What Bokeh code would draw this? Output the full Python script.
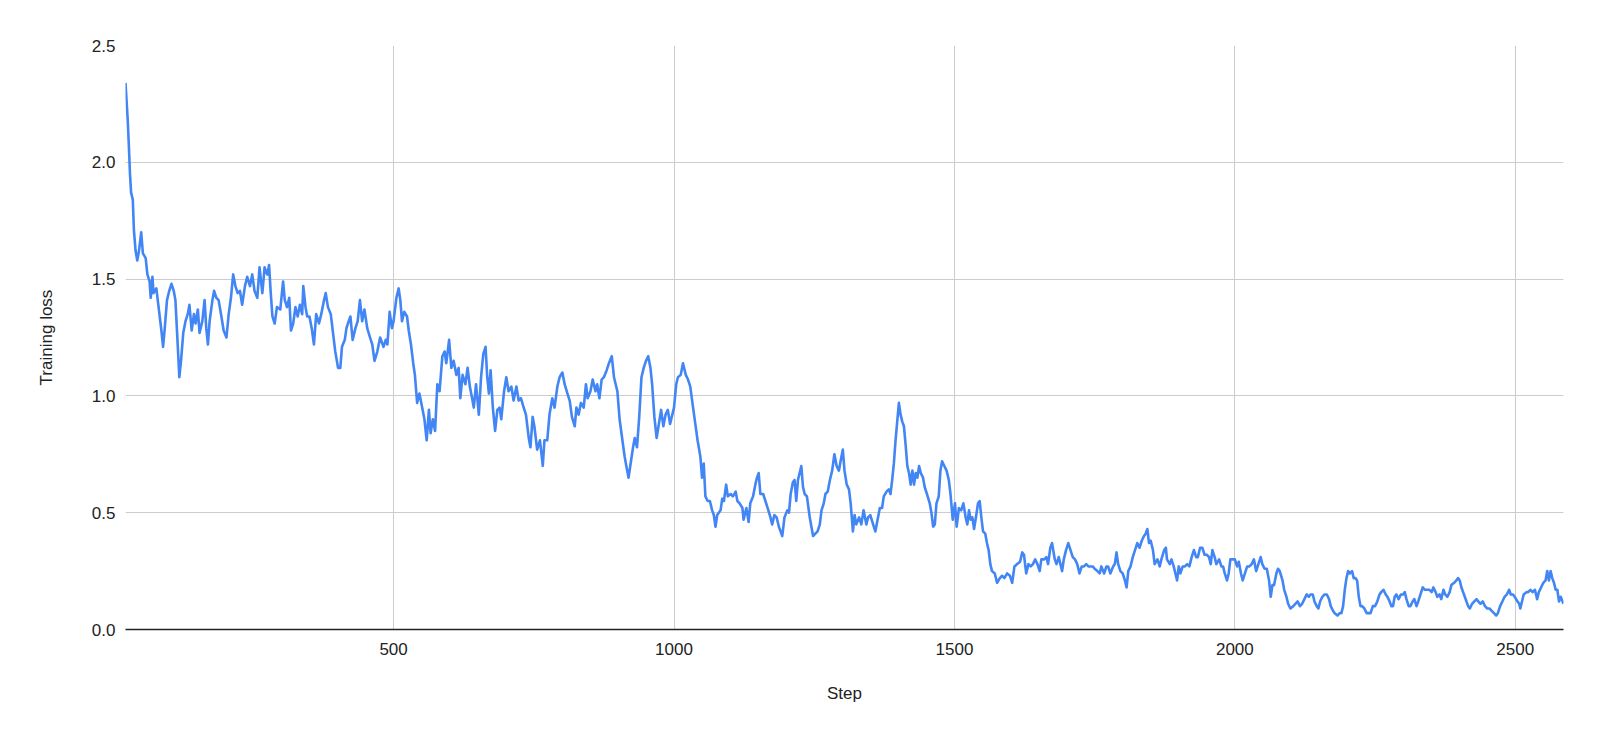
from bokeh.plotting import figure
from bokeh.models import Range1d, FixedTicker, PrintfTickFormatter, ColumnDataSource
from bokeh.embed import file_html
from bokeh.resources import INLINE

# ---- data ----
step = [
    22, 26, 28, 30, 32, 35, 37, 40, 43, 46, 50, 53, 58, 61, 65, 67, 70, 72, 77, 81, 86, 89, 92, 96, 100,
    104, 108, 111, 114, 118, 121, 125, 129, 133, 136, 140, 144, 147, 151, 154, 159, 163, 166, 169, 172,
    177, 180, 184, 188, 193, 197, 202, 206, 210, 214, 218, 222, 226, 230, 235, 239, 244, 248, 252, 257, 261,
    266, 270, 275, 278, 281, 284, 288, 292, 298, 303, 306, 310, 314, 317, 321, 325, 329, 333, 337, 339,
    343, 346, 350, 354, 358, 362, 367, 371, 376, 379, 383, 388, 392, 396, 401, 405, 408, 413, 416, 420,
    423, 427, 432, 436, 440, 444, 448, 453, 458, 462, 466, 471, 476,
    482, 486, 489, 493, 497, 500, 505, 509, 512, 515, 519, 524, 527, 531, 535, 538, 542, 546, 551, 555,
    559, 563, 566, 570, 574, 578, 582, 587, 591, 594, 599, 603, 607, 612, 616, 619, 623, 628, 632, 636,
    640, 643, 647, 652, 656, 660, 664, 667, 670, 673, 677, 681, 685, 689, 692, 697, 701, 705, 710, 714,
    719, 723, 727, 732, 736, 741, 744, 748, 751, 756, 761, 766, 769, 774, 778, 783, 787, 792, 796, 801,
    805, 810, 814, 818, 823, 826, 830, 834, 839, 843, 846, 851, 855, 860, 863, 867, 871, 875, 880, 884,
    889, 893, 899, 903, 908, 912, 915, 919, 922, 927, 930, 934, 938, 942, 946, 950, 954, 958, 961, 965,
    969, 973, 977, 981, 985, 989, 993, 997, 1000, 1004, 1007, 1012, 1016, 1021, 1025, 1029,
    1034, 1038, 1042, 1047, 1050, 1053, 1056, 1060, 1064, 1068, 1071, 1074, 1077, 1083, 1086, 1089, 1093,
    1096, 1101, 1105, 1110, 1113, 1117, 1122, 1124, 1129, 1133, 1136, 1141, 1145, 1148, 1151, 1154, 1159,
    1163, 1167, 1172, 1175, 1179, 1183, 1187, 1190, 1193, 1197, 1202, 1205, 1208, 1212, 1215, 1218, 1221,
    1224, 1227, 1230, 1233, 1237, 1242, 1245, 1248, 1252, 1256, 1260, 1263, 1267, 1270, 1274, 1278, 1282,
    1286, 1290, 1294, 1297, 1301, 1304, 1308, 1312, 1315, 1319, 1322, 1325, 1330, 1334, 1338, 1343, 1346,
    1350, 1355, 1359, 1363, 1367, 1371, 1374, 1379, 1383, 1386, 1389, 1392, 1395, 1398, 1401, 1404, 1407,
    1410, 1413, 1416, 1419, 1422, 1425, 1428, 1431, 1434, 1437, 1440, 1444, 1447, 1451, 1456, 1459, 1462,
    1465, 1468, 1472, 1475, 1478, 1482, 1486, 1490, 1493, 1497, 1501, 1504, 1508, 1512, 1516, 1520, 1523,
    1526, 1529, 1532, 1535, 1539, 1542, 1545, 1548, 1551, 1555, 1558, 1561,
    1564, 1567, 1572, 1576, 1581, 1585, 1589, 1594, 1599, 1603, 1607, 1612, 1617, 1621, 1624, 1628, 1632,
    1636, 1640, 1644, 1648, 1652, 1655, 1660, 1664, 1667, 1671, 1674, 1679, 1682, 1686, 1689, 1692, 1695,
    1699, 1703, 1707, 1711, 1715, 1719, 1723, 1727, 1731, 1735, 1739, 1743, 1747, 1750, 1755, 1759, 1762,
    1767, 1771, 1774, 1778, 1783, 1786, 1789, 1792, 1796, 1800, 1804, 1807, 1810, 1814, 1818, 1822, 1826,
    1830, 1834, 1838, 1841, 1844, 1847, 1850, 1854, 1857, 1862, 1866, 1869, 1874, 1877, 1879, 1884, 1887,
    1891, 1894, 1897, 1900, 1903, 1907, 1911, 1915, 1919, 1923, 1927, 1931, 1934, 1938, 1942, 1946, 1950,
    1954, 1957, 1960, 1964, 1967, 1972, 1976, 1979, 1982, 1986, 1989, 1992, 1997, 2000, 2004, 2007, 2011,
    2014, 2018, 2022, 2026, 2030, 2034, 2038, 2042, 2046, 2049, 2053, 2057, 2061, 2064, 2067, 2070, 2074,
    2077, 2080, 2085, 2088, 2092, 2095,
    2099, 2104, 2108, 2112, 2116, 2120, 2124, 2128, 2132, 2135, 2139, 2142, 2146, 2149, 2152, 2156, 2160,
    2164, 2168, 2171, 2175, 2178, 2183, 2187, 2190, 2193, 2196, 2199, 2202, 2205, 2209, 2212, 2215, 2218,
    2221, 2224, 2227, 2231, 2235, 2239, 2242, 2246, 2250, 2254, 2258, 2261, 2265, 2269, 2272, 2276, 2279,
    2282, 2285, 2288, 2292, 2296, 2300, 2303, 2306, 2310, 2313, 2317, 2320, 2324, 2327, 2331, 2335, 2339,
    2343, 2347, 2351, 2354, 2358, 2361, 2365, 2368, 2372, 2375, 2379, 2383, 2386, 2391, 2395, 2398, 2401,
    2404, 2407, 2410, 2413, 2416, 2419, 2423, 2427, 2431, 2434, 2438, 2442, 2446, 2450, 2454, 2458, 2462,
    2466, 2469, 2473, 2477, 2481, 2485, 2489, 2492, 2496, 2499, 2504, 2507, 2509, 2512, 2515, 2520, 2523,
    2527, 2531, 2535, 2539, 2542, 2546, 2550, 2554, 2557, 2560, 2563, 2566, 2569, 2572, 2575, 2578, 2581,
    2586,
]

training_loss = [
    2.34, 2.18, 2.07, 1.95, 1.87, 1.84, 1.71, 1.62, 1.58, 1.62, 1.70, 1.61, 1.59, 1.52, 1.49, 1.42, 1.51,
    1.44, 1.46, 1.38, 1.28, 1.21, 1.29, 1.41, 1.45, 1.48, 1.45, 1.41, 1.27, 1.08, 1.15, 1.27, 1.32, 1.35,
    1.39, 1.28, 1.35, 1.31, 1.37, 1.27, 1.32, 1.41, 1.29, 1.22, 1.32, 1.41, 1.45, 1.42, 1.41, 1.34, 1.28,
    1.25, 1.35, 1.42, 1.52, 1.47, 1.44, 1.45, 1.39, 1.47, 1.51, 1.47, 1.52, 1.45, 1.42, 1.55,
    1.44, 1.55, 1.52, 1.56, 1.44, 1.34, 1.31, 1.38, 1.37, 1.49, 1.41, 1.38, 1.42, 1.28, 1.31, 1.38, 1.34,
    1.39, 1.35, 1.47, 1.38, 1.34, 1.34, 1.29, 1.22, 1.35, 1.31, 1.35, 1.41, 1.44, 1.38, 1.35, 1.27, 1.19,
    1.12, 1.12, 1.21, 1.24, 1.29, 1.32, 1.34, 1.24, 1.29, 1.32, 1.41, 1.32, 1.37, 1.29, 1.25, 1.22, 1.15,
    1.19, 1.25,
    1.21, 1.24, 1.22, 1.36, 1.29, 1.32, 1.42, 1.46, 1.41, 1.32, 1.36, 1.34, 1.28, 1.22, 1.14, 1.09, 0.97,
    1.01, 0.95, 0.90, 0.81, 0.94, 0.84, 0.90, 0.85, 1.05, 1.02, 1.17, 1.19, 1.14, 1.24, 1.12, 1.15, 1.09,
    1.12, 0.99, 1.09, 1.05, 1.12, 1.04, 0.99, 0.95, 1.05, 0.92, 1.08, 1.18, 1.21, 1.08, 1.01, 1.11, 0.95,
    0.85, 0.94, 0.95, 0.90, 1.02, 1.08, 1.02, 1.04, 0.98, 1.04, 0.98, 0.99, 0.95, 0.92, 0.82, 0.78, 0.91,
    0.87, 0.77, 0.81, 0.70, 0.81, 0.81, 0.92, 0.99, 0.95, 1.04, 1.08, 1.10, 1.05, 1.01, 0.98, 0.91, 0.87,
    0.95, 0.92, 0.97, 0.95, 1.05, 0.99, 1.02, 1.07, 1.02, 1.05, 0.99, 1.07, 1.08, 1.11, 1.14, 1.17, 1.08,
    1.02, 0.90, 0.81, 0.74, 0.70, 0.65, 0.70, 0.78, 0.82, 0.78, 0.91, 1.08, 1.12, 1.15, 1.17, 1.12, 1.05,
    0.91, 0.82, 0.88, 0.94, 0.87, 0.92, 0.94, 0.88, 0.92, 0.95, 1.05, 1.08, 1.09, 1.14, 1.09, 1.07, 1.04,
    0.95, 0.88, 0.81, 0.74, 0.65, 0.71, 0.57, 0.55, 0.55, 0.51, 0.49, 0.44, 0.49, 0.51, 0.56, 0.55, 0.62,
    0.57, 0.58, 0.57, 0.59, 0.55, 0.54, 0.52, 0.47, 0.52, 0.46, 0.54, 0.57, 0.62, 0.65, 0.67, 0.58, 0.58,
    0.55, 0.52, 0.48, 0.45, 0.49, 0.48, 0.44, 0.42, 0.40, 0.48, 0.51, 0.50, 0.58, 0.63, 0.64, 0.55, 0.64,
    0.67, 0.70, 0.61, 0.58, 0.57, 0.48, 0.44, 0.40, 0.41, 0.42, 0.45, 0.51, 0.54, 0.58, 0.59, 0.64, 0.68,
    0.75, 0.70, 0.68, 0.72, 0.77, 0.68, 0.62, 0.60, 0.54, 0.42, 0.49, 0.45, 0.48, 0.45, 0.51, 0.45, 0.48,
    0.49, 0.45, 0.42, 0.47, 0.52, 0.52, 0.57, 0.59, 0.60, 0.58, 0.64, 0.71, 0.81, 0.89, 0.97, 0.92, 0.89,
    0.87, 0.79, 0.70, 0.67, 0.62, 0.68, 0.62, 0.67, 0.65, 0.70, 0.67, 0.65, 0.61, 0.58, 0.54, 0.50, 0.44,
    0.45, 0.54, 0.57, 0.68, 0.72, 0.70, 0.68, 0.64, 0.58, 0.47, 0.54, 0.44, 0.52, 0.51, 0.54, 0.48, 0.45,
    0.51, 0.47, 0.48, 0.43, 0.49, 0.54, 0.55, 0.48, 0.42, 0.41, 0.37, 0.34,
    0.28, 0.25, 0.24, 0.20, 0.22, 0.23, 0.22, 0.24, 0.23, 0.20, 0.27, 0.28, 0.29, 0.33, 0.32, 0.24, 0.28,
    0.27, 0.28, 0.30, 0.28, 0.25, 0.30, 0.30, 0.31, 0.28, 0.35, 0.37, 0.30, 0.28, 0.31, 0.28, 0.25, 0.30,
    0.34, 0.37, 0.34, 0.31, 0.30, 0.28, 0.24, 0.27, 0.27, 0.28, 0.27, 0.27, 0.27, 0.26, 0.25, 0.24, 0.27,
    0.24, 0.27, 0.27, 0.24, 0.27, 0.28, 0.33, 0.28, 0.25, 0.24, 0.21, 0.18, 0.25, 0.27, 0.31, 0.34, 0.37,
    0.35, 0.38, 0.40, 0.41, 0.43, 0.37, 0.38, 0.34, 0.28, 0.30, 0.27, 0.30, 0.34, 0.35, 0.30, 0.28, 0.30,
    0.27, 0.24, 0.21, 0.27, 0.24, 0.27, 0.27, 0.28, 0.27, 0.31, 0.34, 0.31, 0.31, 0.35, 0.35, 0.32, 0.32,
    0.31, 0.28, 0.34, 0.31, 0.28, 0.30, 0.27, 0.27, 0.24, 0.21, 0.24, 0.30, 0.30, 0.30, 0.27, 0.29, 0.24,
    0.21, 0.24, 0.27, 0.27, 0.28, 0.30, 0.25, 0.28, 0.31, 0.28, 0.26, 0.26, 0.21, 0.14, 0.19, 0.19, 0.24,
    0.26, 0.25, 0.21, 0.17, 0.14, 0.11,
    0.09, 0.10, 0.11, 0.12, 0.10, 0.11, 0.13, 0.15, 0.14, 0.15, 0.15, 0.12, 0.10, 0.09, 0.12, 0.14, 0.15,
    0.15, 0.13, 0.10, 0.08, 0.07, 0.06, 0.07, 0.07, 0.10, 0.17, 0.22, 0.25, 0.24, 0.25, 0.22, 0.22, 0.21,
    0.14, 0.10, 0.10, 0.09, 0.07, 0.07, 0.07, 0.10, 0.10, 0.12, 0.15, 0.16, 0.17, 0.15, 0.14, 0.12, 0.10,
    0.10, 0.14, 0.15, 0.13, 0.15, 0.15, 0.16, 0.13, 0.10, 0.10, 0.12, 0.13, 0.10, 0.12, 0.15, 0.18, 0.17,
    0.17, 0.17, 0.16, 0.18, 0.16, 0.14, 0.15, 0.13, 0.17, 0.15, 0.14, 0.16, 0.19, 0.20, 0.21, 0.22, 0.21,
    0.18, 0.16, 0.14, 0.12, 0.10, 0.09, 0.11, 0.12, 0.13, 0.12, 0.11, 0.12, 0.10, 0.09, 0.09, 0.08, 0.07,
    0.06, 0.07, 0.10, 0.12, 0.14, 0.15, 0.17, 0.15, 0.15, 0.14, 0.12, 0.11, 0.09, 0.12, 0.15, 0.16, 0.16,
    0.17, 0.16, 0.17, 0.13, 0.16, 0.18, 0.20, 0.21, 0.25, 0.21, 0.25, 0.22, 0.20, 0.17, 0.17, 0.12, 0.14,
    0.11,
]

x_ticks = [500, 1000, 1500, 2000, 2500]
y_ticks = [0.0, 0.5, 1.0, 1.5, 2.0, 2.5]
x_title = "Step"
y_title = "Training loss"

assert len(step) == len(training_loss), (len(step), len(training_loss))

FONT = "Liberation Sans"

p = figure(
    width=1584, height=725,
    output_backend="svg", toolbar_location=None,
    x_range=Range1d(step[0], step[-1]),
    y_range=Range1d(y_ticks[0], y_ticks[-1]),
    min_border_left=125, min_border_right=21, min_border_top=45, min_border_bottom=96,
)
p.outline_line_color = None
p.background_fill_color = "white"
p.border_fill_color = "white"

src = ColumnDataSource(dict(step=step, loss=training_loss))
p.line("step", "loss", source=src, line_color="#4285F4", line_width=2.6, line_join="round")

# grids
p.xgrid.ticker = FixedTicker(ticks=x_ticks)
p.ygrid.ticker = FixedTicker(ticks=y_ticks)
for g in (p.xgrid, p.ygrid):
    g.grid_line_color = "#cccccc"
    g.grid_line_width = 1

# x axis
xa = p.xaxis[0]
xa.ticker = FixedTicker(ticks=x_ticks)
xa.axis_line_color = "#222222"
xa.axis_line_width = 1.5
xa.major_tick_line_color = None
xa.minor_tick_line_color = None
xa.major_tick_out = 0
xa.major_label_standoff = 13
xa.major_label_text_font = FONT
xa.major_label_text_font_size = "17px"
xa.major_label_text_color = "#222222"
xa.axis_label = x_title
xa.axis_label_text_font = FONT
xa.axis_label_text_font_size = "17px"
xa.axis_label_text_font_style = "normal"
xa.axis_label_text_color = "#222222"
xa.axis_label_standoff = 26

# y axis
ya = p.yaxis[0]
ya.ticker = FixedTicker(ticks=y_ticks)
ya.formatter = PrintfTickFormatter(format="%.1f")
ya.axis_line_color = None
ya.major_tick_line_color = None
ya.minor_tick_line_color = None
ya.major_tick_out = 0
ya.major_label_standoff = 10
ya.major_label_text_font = FONT
ya.major_label_text_font_size = "17px"
ya.major_label_text_color = "#222222"
ya.axis_label = y_title
ya.axis_label_text_font = FONT
ya.axis_label_text_font_size = "17px"
ya.axis_label_text_font_style = "normal"
ya.axis_label_text_color = "#222222"
ya.axis_label_standoff = 33

open("out.html", "w").write(file_html(p, INLINE))
